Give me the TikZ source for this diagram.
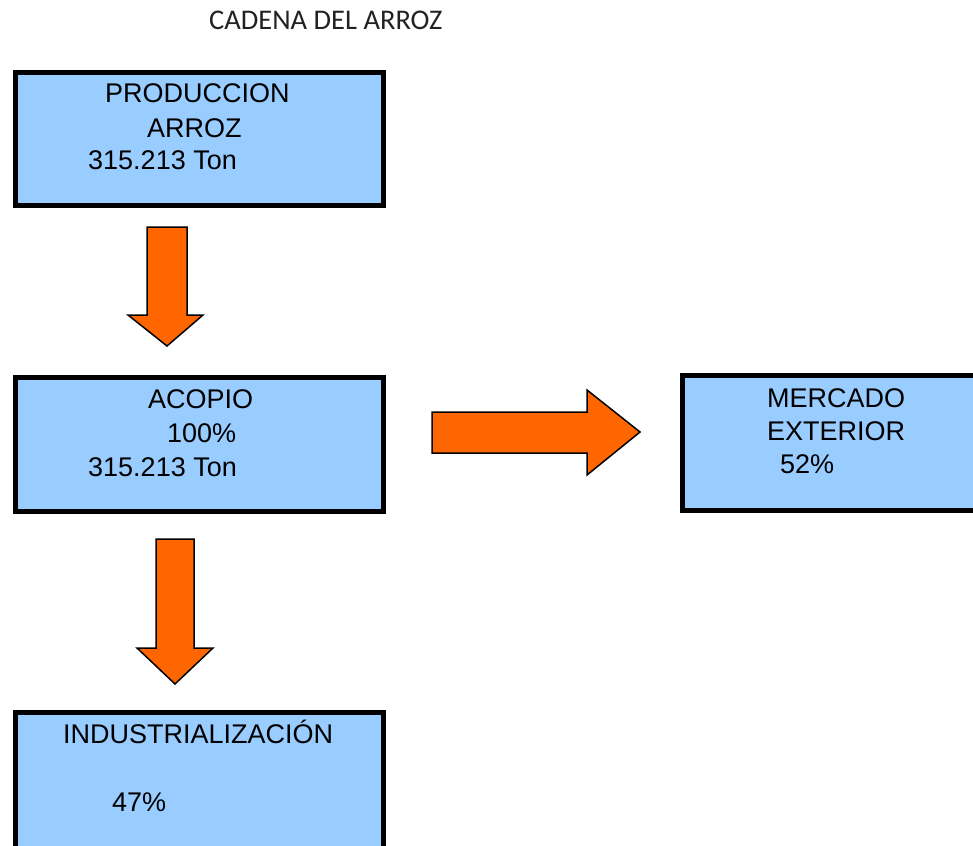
\documentclass[tikz,border=0pt]{standalone}
\usepackage{fontspec}
\setmainfont{Liberation Sans}
\newfontfamily\titlefont{Carlito}
\definecolor{boxblue}{HTML}{99CCFF}
\definecolor{arrorange}{HTML}{FF6600}
\definecolor{titlegray}{HTML}{222222}
\begin{document}
\begin{tikzpicture}[x=1pt,y=-1pt,
  box/.style={draw=black, line width=5pt, fill=boxblue, rectangle, inner sep=0pt, outer sep=0pt},
  txt/.style={anchor=base west, inner sep=0pt, font=\fontsize{27}{31}\selectfont},
  blockarrow/.style={draw=black, line width=1.5pt, fill=arrorange, line join=miter}]
\useasboundingbox (0,0) rectangle (973,845);
\clip (0,0) rectangle (973,845);
% title
\node[anchor=base west, inner sep=0pt, text=titlegray, font=\titlefont\fontsize{28.5}{32}\selectfont] (title) at (209,29.5) {CADENA DEL ARROZ};
% boxes
\node[box, minimum width=368pt, minimum height=133pt] (prod) at (199.5,139) {};
\node[box, minimum width=368pt, minimum height=134pt] (acop) at (199.5,444.5) {};
\node[box, minimum width=307.5pt, minimum height=135pt] (merc) at (836.25,443) {};
\node[box, minimum width=368pt, minimum height=157.5pt] (indu) at (199.5,791.25) {};
% texts
\node[txt] (t1) at (105,103) {PRODUCCION};
\node[txt] (t2) at (147,138) {ARROZ};
\node[txt] (t3) at (88,170) {315.213 Ton};
\node[txt] (t4) at (148,408) {ACOPIO};
\node[txt] (t5) at (167,442) {100\%};
\node[txt] (t6) at (88,476) {315.213 Ton};
\node[txt] (t7) at (767,407) {MERCADO};
\node[txt] (t8) at (767,440) {EXTERIOR};
\node[txt] (t9) at (780,473) {52\%};
\node[txt] (t10) at (63,743) {INDUSTRIALIZACIÓN};
\node[txt] (t11) at (112,811) {47\%};
% block arrows
\draw[blockarrow] (147,227) -- (187,227) -- (187,315) -- (203,315) -- (167,346) -- (128,315) -- (147,315) -- cycle;
\draw[blockarrow] (432,412) -- (587,412) -- (587,390) -- (640,432) -- (587,475) -- (587,453) -- (432,453) -- cycle;
\draw[blockarrow] (156,539) -- (194,539) -- (194,648) -- (213,648) -- (175,684) -- (137,648) -- (156,648) -- cycle;
\end{tikzpicture}
\end{document}
